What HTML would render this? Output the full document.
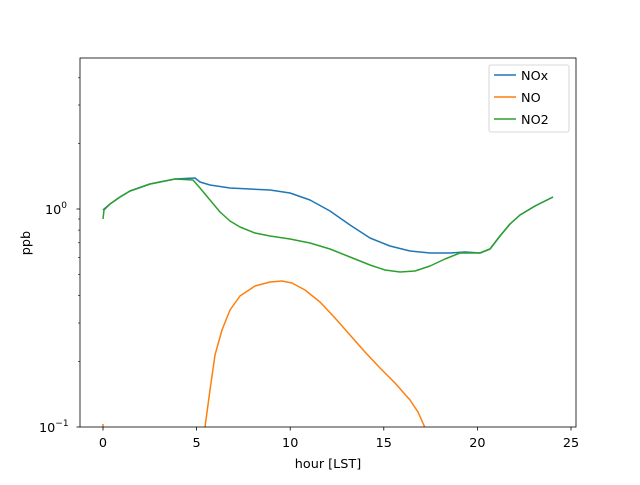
<!DOCTYPE html>
<html><head><meta charset="utf-8"><style>
html,body{margin:0;padding:0;background:#fff}
svg text{font-family:"DejaVu Sans","Liberation Sans",sans-serif;font-size:12.8px;fill:#000}
</style></head><body>
<svg width="640" height="480" viewBox="0 0 640 480" xmlns="http://www.w3.org/2000/svg">
<rect width="640" height="480" fill="#fff"/>
<defs><clipPath id="c"><rect x="80" y="58" width="496" height="369"/></clipPath></defs>
<g clip-path="url(#c)" fill="none" stroke-width="1.5" stroke-linejoin="round">
<polyline stroke="#1f77b4" points="103,210 110,204 120,197 130,191 150,184 175,179 195,178 200,182 210,185 230,188 250,189 270,190 290,193 310,200 330,211 350,225 370,238 390,246 410,251 430,253 450,253 465,252 480,253 490,249 500,236 510,224 520,215 535,206 553,197"/>
<polyline stroke="#ff7f0e" points="103,424 103,440"/>
<polyline stroke="#ff7f0e" points="204,435 205,427 210,390 215,355 222,330 230,310 240,296 255,286 270,282 282,281 292,283 305,290 320,302 335,318 350,335 365,352 380,368 395,383 410,400 418,412 426,430"/>
<polyline stroke="#2ca02c" points="103,219 104,210 110,204 120,197 130,191 150,184 175,179 193,180 200,188 210,200 220,212 230,221 240,227 255,233 270,236 290,239 310,243 330,249 350,257 370,265 385,270 400,272 415,271 430,266 445,259 460,253 480,253 490,249 500,236 510,224 520,215 535,206 553,197"/>
</g>
<rect x="80" y="58" width="496" height="369" fill="none" stroke="#000" stroke-width="0.8"/>
<g stroke="#000" stroke-width="0.8">
<line x1="103" y1="427" x2="103" y2="430.5"/><line x1="196.6" y1="427" x2="196.6" y2="430.5"/><line x1="290.2" y1="427" x2="290.2" y2="430.5"/><line x1="383.8" y1="427" x2="383.8" y2="430.5"/><line x1="477.4" y1="427" x2="477.4" y2="430.5"/><line x1="571" y1="427" x2="571" y2="430.5"/>
<line x1="76.5" y1="427" x2="80" y2="427"/><line x1="76.5" y1="209" x2="80" y2="209"/>
</g>
<g stroke="#000" stroke-width="0.6">
<line x1="78" y1="361.4" x2="80" y2="361.4"/><line x1="78" y1="323" x2="80" y2="323"/><line x1="78" y1="295.7" x2="80" y2="295.7"/><line x1="78" y1="274.6" x2="80" y2="274.6"/><line x1="78" y1="257.4" x2="80" y2="257.4"/><line x1="78" y1="242.8" x2="80" y2="242.8"/><line x1="78" y1="230.1" x2="80" y2="230.1"/><line x1="78" y1="219" x2="80" y2="219"/><line x1="78" y1="143.4" x2="80" y2="143.4"/><line x1="78" y1="105" x2="80" y2="105"/><line x1="78" y1="77.8" x2="80" y2="77.8"/>
</g>
<g text-anchor="middle">
<text x="103" y="447">0</text><text x="196.6" y="447">5</text><text x="290.2" y="447">10</text><text x="383.8" y="447">15</text><text x="477.4" y="447">20</text><text x="571" y="447">25</text>
<text x="328" y="468">hour [LST]</text>
</g>
<text x="39" y="432">10<tspan dy="-6" font-size="9px">−1</tspan></text>
<text x="45" y="214">10<tspan dy="-6" font-size="9px">0</tspan></text>
<text transform="translate(30,243) rotate(-90)" text-anchor="middle">ppb</text>
<rect x="489" y="65" width="80" height="67" rx="2" fill="#fff" fill-opacity="0.8" stroke="#ccc" stroke-width="0.8"/>
<line x1="494" y1="75" x2="516" y2="75" stroke="#1f77b4" stroke-width="1.5"/>
<line x1="494" y1="97" x2="516" y2="97" stroke="#ff7f0e" stroke-width="1.5"/>
<line x1="494" y1="119" x2="516" y2="119" stroke="#2ca02c" stroke-width="1.5"/>
<text x="521" y="80">NOx</text><text x="521" y="102">NO</text><text x="521" y="124">NO2</text>
</svg>
</body></html>
